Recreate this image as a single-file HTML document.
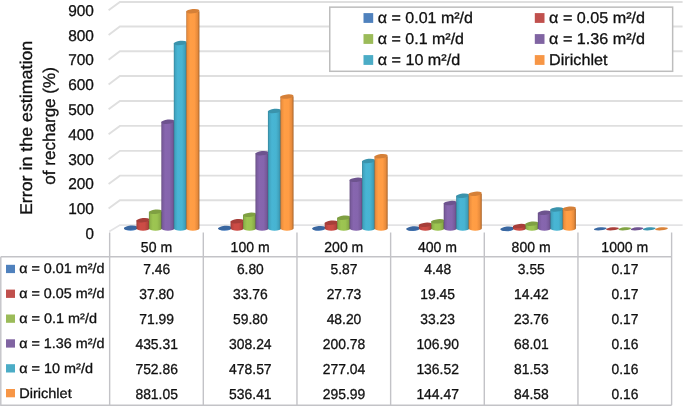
<!DOCTYPE html><html><head><meta charset="utf-8"><title>chart</title><style>html,body{margin:0;padding:0;background:#fff}svg{display:block}text{font-family:"Liberation Sans",sans-serif;fill:#111;stroke:#111;stroke-width:0.3px;text-rendering:geometricPrecision}</style></head><body>
<svg width="685" height="407" viewBox="0 0 685 407">
<defs>
<linearGradient id="gb" x1="0" x2="1" y1="0" y2="0"><stop offset="0" stop-color="#335b8d"/><stop offset="0.1" stop-color="#4073b3"/><stop offset="0.3" stop-color="#477fc5"/><stop offset="0.62" stop-color="#467ec3"/><stop offset="0.85" stop-color="#3e70ad"/><stop offset="1" stop-color="#2e527e"/></linearGradient>
<linearGradient id="gr" x1="0" x2="1" y1="0" y2="0"><stop offset="0" stop-color="#933732"/><stop offset="0.1" stop-color="#b9453f"/><stop offset="0.3" stop-color="#cd4c46"/><stop offset="0.62" stop-color="#cb4c45"/><stop offset="0.85" stop-color="#b3433d"/><stop offset="1" stop-color="#83312d"/></linearGradient>
<linearGradient id="gg" x1="0" x2="1" y1="0" y2="0"><stop offset="0" stop-color="#708d3b"/><stop offset="0.1" stop-color="#8eb34a"/><stop offset="0.3" stop-color="#9dc552"/><stop offset="0.62" stop-color="#9bc351"/><stop offset="0.85" stop-color="#8aad48"/><stop offset="1" stop-color="#657e34"/></linearGradient>
<linearGradient id="gp" x1="0" x2="1" y1="0" y2="0"><stop offset="0" stop-color="#61497d"/><stop offset="0.1" stop-color="#7a5c9e"/><stop offset="0.3" stop-color="#8766af"/><stop offset="0.62" stop-color="#8565ad"/><stop offset="0.85" stop-color="#765999"/><stop offset="1" stop-color="#564170"/></linearGradient>
<linearGradient id="gc" x1="0" x2="1" y1="0" y2="0"><stop offset="0" stop-color="#348298"/><stop offset="0.1" stop-color="#41a4c0"/><stop offset="0.3" stop-color="#48b5d4"/><stop offset="0.62" stop-color="#47b4d2"/><stop offset="0.85" stop-color="#3f9fba"/><stop offset="1" stop-color="#2e7488"/></linearGradient>
<linearGradient id="go" x1="0" x2="1" y1="0" y2="0"><stop offset="0" stop-color="#bc7131"/><stop offset="0.1" stop-color="#ee8f3e"/><stop offset="0.3" stop-color="#ff9e45"/><stop offset="0.62" stop-color="#ff9c44"/><stop offset="0.85" stop-color="#e78b3c"/><stop offset="1" stop-color="#a9652c"/></linearGradient>
</defs>
<rect width="685" height="407" fill="#fff"/>
<path d="M108.6,208.60 L119.9,200.20 H682.6 M108.6,184.05 L119.9,175.65 H682.6 M108.6,159.25 L119.9,150.85 H682.6 M108.6,134.30 L119.9,125.90 H682.6 M108.6,109.35 L119.9,100.95 H682.6 M108.6,84.40 L119.9,76.00 H682.6 M108.6,59.65 L119.9,51.25 H682.6 M108.6,34.95 L119.9,26.55 H682.6 M108.6,10.35 L119.9,1.95 H682.6" fill="none" stroke="#dfdfdf" stroke-width="1.9"/>
<path d="M109.3,231.4 L119.9,225.10 H682.6" fill="none" stroke="#e3e3e5" stroke-width="1.7"/>
<path d="M124.00,227.75 V228.50 A6.60,2.15 0 0 0 137.20,228.50 V227.75 Z" fill="url(#gb)"/>
<ellipse cx="130.60" cy="227.75" rx="6.60" ry="2.15" fill="#3a67a0" transform="rotate(-6 130.60 227.75)"/>
<path d="M136.45,220.23 V228.50 A6.60,2.15 0 0 0 149.65,228.50 V220.23 Z" fill="url(#gr)"/>
<ellipse cx="143.05" cy="220.23" rx="6.60" ry="2.15" fill="#a63e39" transform="rotate(-6 143.05 220.23)"/>
<path d="M148.90,211.75 V228.50 A6.60,2.15 0 0 0 162.10,228.50 V211.75 Z" fill="url(#gg)"/>
<ellipse cx="155.50" cy="211.75" rx="6.60" ry="2.15" fill="#7fa042" transform="rotate(-6 155.50 211.75)"/>
<path d="M161.35,121.66 V228.50 A6.60,2.15 0 0 0 174.55,228.50 V121.66 Z" fill="url(#gp)"/>
<ellipse cx="167.95" cy="121.66" rx="6.60" ry="2.15" fill="#6d538e" transform="rotate(-6 167.95 121.66)"/>
<path d="M173.80,42.93 V228.50 A6.60,2.15 0 0 0 187.00,228.50 V42.93 Z" fill="url(#gc)"/>
<ellipse cx="180.40" cy="42.93" rx="6.60" ry="2.15" fill="#3a93ac" transform="rotate(-6 180.40 42.93)"/>
<path d="M186.25,11.14 V228.50 A6.60,2.15 0 0 0 199.45,228.50 V11.14 Z" fill="url(#go)"/>
<ellipse cx="192.85" cy="11.14" rx="6.60" ry="2.15" fill="#d58038" transform="rotate(-6 192.85 11.14)"/>
<path d="M218.12,227.91 V228.50 A6.60,2.15 0 0 0 231.32,228.50 V227.91 Z" fill="url(#gb)"/>
<ellipse cx="224.72" cy="227.91" rx="6.60" ry="2.15" fill="#3a67a0" transform="rotate(-6 224.72 227.91)"/>
<path d="M230.57,221.23 V228.50 A6.60,2.15 0 0 0 243.77,228.50 V221.23 Z" fill="url(#gr)"/>
<ellipse cx="237.17" cy="221.23" rx="6.60" ry="2.15" fill="#a63e39" transform="rotate(-6 237.17 221.23)"/>
<path d="M243.02,214.77 V228.50 A6.60,2.15 0 0 0 256.22,228.50 V214.77 Z" fill="url(#gg)"/>
<ellipse cx="249.62" cy="214.77" rx="6.60" ry="2.15" fill="#7fa042" transform="rotate(-6 249.62 214.77)"/>
<path d="M255.47,153.17 V228.50 A6.60,2.15 0 0 0 268.67,228.50 V153.17 Z" fill="url(#gp)"/>
<ellipse cx="262.07" cy="153.17" rx="6.60" ry="2.15" fill="#6d538e" transform="rotate(-6 262.07 153.17)"/>
<path d="M267.92,110.94 V228.50 A6.60,2.15 0 0 0 281.12,228.50 V110.94 Z" fill="url(#gc)"/>
<ellipse cx="274.52" cy="110.94" rx="6.60" ry="2.15" fill="#3a93ac" transform="rotate(-6 274.52 110.94)"/>
<path d="M280.37,96.60 V228.50 A6.60,2.15 0 0 0 293.57,228.50 V96.60 Z" fill="url(#go)"/>
<ellipse cx="286.97" cy="96.60" rx="6.60" ry="2.15" fill="#d58038" transform="rotate(-6 286.97 96.60)"/>
<path d="M312.24,228.14 V228.50 A6.60,2.15 0 0 0 325.44,228.50 V228.14 Z" fill="url(#gb)"/>
<ellipse cx="318.84" cy="228.14" rx="6.60" ry="2.15" fill="#3a67a0" transform="rotate(-6 318.84 228.14)"/>
<path d="M324.69,222.72 V228.50 A6.60,2.15 0 0 0 337.89,228.50 V222.72 Z" fill="url(#gr)"/>
<ellipse cx="331.29" cy="222.72" rx="6.60" ry="2.15" fill="#a63e39" transform="rotate(-6 331.29 222.72)"/>
<path d="M337.14,217.65 V228.50 A6.60,2.15 0 0 0 350.34,228.50 V217.65 Z" fill="url(#gg)"/>
<ellipse cx="343.74" cy="217.65" rx="6.60" ry="2.15" fill="#7fa042" transform="rotate(-6 343.74 217.65)"/>
<path d="M349.59,179.82 V228.50 A6.60,2.15 0 0 0 362.79,228.50 V179.82 Z" fill="url(#gp)"/>
<ellipse cx="356.19" cy="179.82" rx="6.60" ry="2.15" fill="#6d538e" transform="rotate(-6 356.19 179.82)"/>
<path d="M362.04,160.91 V228.50 A6.60,2.15 0 0 0 375.24,228.50 V160.91 Z" fill="url(#gc)"/>
<ellipse cx="368.64" cy="160.91" rx="6.60" ry="2.15" fill="#3a93ac" transform="rotate(-6 368.64 160.91)"/>
<path d="M374.49,156.21 V228.50 A6.60,2.15 0 0 0 387.69,228.50 V156.21 Z" fill="url(#go)"/>
<ellipse cx="381.09" cy="156.21" rx="6.60" ry="2.15" fill="#d58038" transform="rotate(-6 381.09 156.21)"/>
<path d="M406.36,228.49 V228.79 A6.60,2.15 0 0 0 419.56,228.79 V228.49 Z" fill="url(#gb)"/>
<ellipse cx="412.96" cy="228.49" rx="6.60" ry="2.15" fill="#3a67a0" transform="rotate(-6 412.96 228.49)"/>
<path d="M418.81,224.78 V228.50 A6.60,2.15 0 0 0 432.01,228.50 V224.78 Z" fill="url(#gr)"/>
<ellipse cx="425.41" cy="224.78" rx="6.60" ry="2.15" fill="#a63e39" transform="rotate(-6 425.41 224.78)"/>
<path d="M431.26,221.36 V228.50 A6.60,2.15 0 0 0 444.46,228.50 V221.36 Z" fill="url(#gg)"/>
<ellipse cx="437.86" cy="221.36" rx="6.60" ry="2.15" fill="#7fa042" transform="rotate(-6 437.86 221.36)"/>
<path d="M443.71,203.09 V228.50 A6.60,2.15 0 0 0 456.91,228.50 V203.09 Z" fill="url(#gp)"/>
<ellipse cx="450.31" cy="203.09" rx="6.60" ry="2.15" fill="#6d538e" transform="rotate(-6 450.31 203.09)"/>
<path d="M456.16,195.75 V228.50 A6.60,2.15 0 0 0 469.36,228.50 V195.75 Z" fill="url(#gc)"/>
<ellipse cx="462.76" cy="195.75" rx="6.60" ry="2.15" fill="#3a93ac" transform="rotate(-6 462.76 195.75)"/>
<path d="M468.61,193.78 V228.50 A6.60,2.15 0 0 0 481.81,228.50 V193.78 Z" fill="url(#go)"/>
<ellipse cx="475.21" cy="193.78" rx="6.60" ry="2.15" fill="#d58038" transform="rotate(-6 475.21 193.78)"/>
<path d="M500.48,228.72 V229.02 A6.60,2.15 0 0 0 513.68,229.02 V228.72 Z" fill="url(#gb)"/>
<ellipse cx="507.08" cy="228.72" rx="6.60" ry="2.15" fill="#3a67a0" transform="rotate(-6 507.08 228.72)"/>
<path d="M512.93,226.02 V228.50 A6.60,2.15 0 0 0 526.13,228.50 V226.02 Z" fill="url(#gr)"/>
<ellipse cx="519.53" cy="226.02" rx="6.60" ry="2.15" fill="#a63e39" transform="rotate(-6 519.53 226.02)"/>
<path d="M525.38,223.71 V228.50 A6.60,2.15 0 0 0 538.58,228.50 V223.71 Z" fill="url(#gg)"/>
<ellipse cx="531.98" cy="223.71" rx="6.60" ry="2.15" fill="#7fa042" transform="rotate(-6 531.98 223.71)"/>
<path d="M537.83,212.74 V228.50 A6.60,2.15 0 0 0 551.03,228.50 V212.74 Z" fill="url(#gp)"/>
<ellipse cx="544.43" cy="212.74" rx="6.60" ry="2.15" fill="#6d538e" transform="rotate(-6 544.43 212.74)"/>
<path d="M550.28,209.38 V228.50 A6.60,2.15 0 0 0 563.48,228.50 V209.38 Z" fill="url(#gc)"/>
<ellipse cx="556.88" cy="209.38" rx="6.60" ry="2.15" fill="#3a93ac" transform="rotate(-6 556.88 209.38)"/>
<path d="M562.73,208.63 V228.50 A6.60,2.15 0 0 0 575.93,228.50 V208.63 Z" fill="url(#go)"/>
<ellipse cx="569.33" cy="208.63" rx="6.60" ry="2.15" fill="#d58038" transform="rotate(-6 569.33 208.63)"/>
<ellipse cx="600.30" cy="228.85" rx="6.4" ry="1.5" fill="#3b6aa4" transform="rotate(-5 600.30 228.85)"/>
<ellipse cx="612.55" cy="228.85" rx="6.4" ry="1.5" fill="#aa3f3a" transform="rotate(-5 612.55 228.85)"/>
<ellipse cx="624.80" cy="228.85" rx="6.4" ry="1.5" fill="#82a444" transform="rotate(-5 624.80 228.85)"/>
<ellipse cx="637.05" cy="228.85" rx="6.4" ry="1.5" fill="#705491" transform="rotate(-5 637.05 228.85)"/>
<ellipse cx="649.30" cy="228.85" rx="6.4" ry="1.5" fill="#3c96b0" transform="rotate(-5 649.30 228.85)"/>
<ellipse cx="661.55" cy="228.85" rx="6.4" ry="1.5" fill="#da8339" transform="rotate(-5 661.55 228.85)"/>
<rect x="329.75" y="7.15" width="342.9" height="64.15" fill="#fff" stroke="#bdbdbd" stroke-width="1.5"/>
<rect x="363.5" y="13.1" width="9.7" height="9.8" fill="#4f81bd"/>
<text x="377.8" y="23.15" font-size="15.6" textLength="95.2" lengthAdjust="spacingAndGlyphs">α = 0.01 m²/d</text>
<rect x="534.8" y="13.1" width="9.7" height="9.8" fill="#c0504d"/>
<text x="549.1" y="23.15" font-size="15.6" textLength="95.9" lengthAdjust="spacingAndGlyphs">α = 0.05 m²/d</text>
<rect x="363.5" y="34.1" width="9.7" height="9.8" fill="#9bbb59"/>
<text x="377.8" y="44.15" font-size="15.6" textLength="86.2" lengthAdjust="spacingAndGlyphs">α = 0.1 m²/d</text>
<rect x="534.8" y="34.1" width="9.7" height="9.8" fill="#8064a2"/>
<text x="549.1" y="44.15" font-size="15.6" textLength="95.9" lengthAdjust="spacingAndGlyphs">α = 1.36 m²/d</text>
<rect x="363.5" y="55.1" width="9.7" height="9.8" fill="#4bacc6"/>
<text x="377.8" y="65.15" font-size="15.6" textLength="82.3" lengthAdjust="spacingAndGlyphs">α = 10 m²/d</text>
<rect x="534.8" y="55.1" width="9.7" height="9.8" fill="#f79646"/>
<text x="549.1" y="65.15" font-size="15.6" textLength="58.4" lengthAdjust="spacingAndGlyphs">Dirichlet</text>
<text x="85.45" y="238.95" font-size="15.7" textLength="8.45" lengthAdjust="spacingAndGlyphs">0</text>
<text x="68.15" y="214.15" font-size="15.7" textLength="25.75" lengthAdjust="spacingAndGlyphs">100</text>
<text x="68.15" y="189.35" font-size="15.7" textLength="25.75" lengthAdjust="spacingAndGlyphs">200</text>
<text x="68.15" y="164.55" font-size="15.7" textLength="25.75" lengthAdjust="spacingAndGlyphs">300</text>
<text x="68.15" y="139.75" font-size="15.7" textLength="25.75" lengthAdjust="spacingAndGlyphs">400</text>
<text x="68.15" y="114.95" font-size="15.7" textLength="25.75" lengthAdjust="spacingAndGlyphs">500</text>
<text x="68.15" y="90.15" font-size="15.7" textLength="25.75" lengthAdjust="spacingAndGlyphs">600</text>
<text x="68.15" y="65.35" font-size="15.7" textLength="25.75" lengthAdjust="spacingAndGlyphs">700</text>
<text x="68.15" y="40.55" font-size="15.7" textLength="25.75" lengthAdjust="spacingAndGlyphs">800</text>
<text x="68.15" y="15.75" font-size="15.7" textLength="25.75" lengthAdjust="spacingAndGlyphs">900</text>
<text transform="translate(32.4,127.95) rotate(-90)" text-anchor="middle" font-size="17" textLength="174.3" lengthAdjust="spacingAndGlyphs">Error in the estimation</text>
<text transform="translate(55.4,125.92) rotate(-90)" text-anchor="middle" font-size="17" textLength="117.65" lengthAdjust="spacingAndGlyphs">of recharge (%)</text>
<path d="M109.65,232.6 V405.2 M203.31,232.6 V405.2 M296.97,232.6 V405.2 M390.63,232.6 V405.2 M484.29,232.6 V405.2 M577.95,232.6 V405.2 M671.61,232.6 V405.2 M0.8,256.75 H671.61 M0.8,256.75 V405.2 H671.61" fill="none" stroke="#c3c3c7" stroke-width="1.4"/>
<text x="140.83" y="252.4" font-size="14.4" textLength="31.30" lengthAdjust="spacingAndGlyphs">50 m</text>
<text x="230.60" y="252.4" font-size="14.4" textLength="39.08" lengthAdjust="spacingAndGlyphs">100 m</text>
<text x="324.26" y="252.4" font-size="14.4" textLength="39.08" lengthAdjust="spacingAndGlyphs">200 m</text>
<text x="417.92" y="252.4" font-size="14.4" textLength="39.08" lengthAdjust="spacingAndGlyphs">400 m</text>
<text x="511.58" y="252.4" font-size="14.4" textLength="39.08" lengthAdjust="spacingAndGlyphs">800 m</text>
<text x="601.35" y="252.4" font-size="14.4" textLength="46.86" lengthAdjust="spacingAndGlyphs">1000 m</text>
<rect x="6.0" y="264.8" width="9.0" height="8.3" fill="#4f81bd"/>
<text x="19.2" y="273.3" font-size="13.8" textLength="85.3" lengthAdjust="spacingAndGlyphs">α = 0.01 m²/d</text>
<text x="143.23" y="273.8" font-size="14.4" textLength="26.90" lengthAdjust="spacingAndGlyphs">7.46</text>
<text x="236.89" y="273.8" font-size="14.4" textLength="26.90" lengthAdjust="spacingAndGlyphs">6.80</text>
<text x="330.55" y="273.8" font-size="14.4" textLength="26.90" lengthAdjust="spacingAndGlyphs">5.87</text>
<text x="424.21" y="273.8" font-size="14.4" textLength="26.90" lengthAdjust="spacingAndGlyphs">4.48</text>
<text x="517.87" y="273.8" font-size="14.4" textLength="26.90" lengthAdjust="spacingAndGlyphs">3.55</text>
<text x="611.53" y="273.8" font-size="14.4" textLength="26.90" lengthAdjust="spacingAndGlyphs">0.17</text>
<rect x="6.0" y="289.6" width="9.0" height="8.3" fill="#c0504d"/>
<text x="19.2" y="298.1" font-size="13.8" textLength="85.3" lengthAdjust="spacingAndGlyphs">α = 0.05 m²/d</text>
<text x="139.32" y="298.8" font-size="14.4" textLength="34.71" lengthAdjust="spacingAndGlyphs">37.80</text>
<text x="232.98" y="298.8" font-size="14.4" textLength="34.71" lengthAdjust="spacingAndGlyphs">33.76</text>
<text x="326.64" y="298.8" font-size="14.4" textLength="34.71" lengthAdjust="spacingAndGlyphs">27.73</text>
<text x="420.30" y="298.8" font-size="14.4" textLength="34.71" lengthAdjust="spacingAndGlyphs">19.45</text>
<text x="513.96" y="298.8" font-size="14.4" textLength="34.71" lengthAdjust="spacingAndGlyphs">14.42</text>
<text x="611.53" y="298.8" font-size="14.4" textLength="26.90" lengthAdjust="spacingAndGlyphs">0.17</text>
<rect x="6.0" y="314.5" width="9.0" height="8.3" fill="#9bbb59"/>
<text x="19.2" y="323.0" font-size="13.8" textLength="77.8" lengthAdjust="spacingAndGlyphs">α = 0.1 m²/d</text>
<text x="139.32" y="323.8" font-size="14.4" textLength="34.71" lengthAdjust="spacingAndGlyphs">71.99</text>
<text x="232.98" y="323.8" font-size="14.4" textLength="34.71" lengthAdjust="spacingAndGlyphs">59.80</text>
<text x="326.64" y="323.8" font-size="14.4" textLength="34.71" lengthAdjust="spacingAndGlyphs">48.20</text>
<text x="420.30" y="323.8" font-size="14.4" textLength="34.71" lengthAdjust="spacingAndGlyphs">33.23</text>
<text x="513.96" y="323.8" font-size="14.4" textLength="34.71" lengthAdjust="spacingAndGlyphs">23.76</text>
<text x="611.53" y="323.8" font-size="14.4" textLength="26.90" lengthAdjust="spacingAndGlyphs">0.17</text>
<rect x="6.0" y="339.3" width="9.0" height="8.3" fill="#8064a2"/>
<text x="19.2" y="347.8" font-size="13.8" textLength="85.3" lengthAdjust="spacingAndGlyphs">α = 1.36 m²/d</text>
<text x="135.42" y="348.8" font-size="14.4" textLength="42.52" lengthAdjust="spacingAndGlyphs">435.31</text>
<text x="229.08" y="348.8" font-size="14.4" textLength="42.52" lengthAdjust="spacingAndGlyphs">308.24</text>
<text x="322.74" y="348.8" font-size="14.4" textLength="42.52" lengthAdjust="spacingAndGlyphs">200.78</text>
<text x="416.40" y="348.8" font-size="14.4" textLength="42.52" lengthAdjust="spacingAndGlyphs">106.90</text>
<text x="513.96" y="348.8" font-size="14.4" textLength="34.71" lengthAdjust="spacingAndGlyphs">68.01</text>
<text x="611.53" y="348.8" font-size="14.4" textLength="26.90" lengthAdjust="spacingAndGlyphs">0.16</text>
<rect x="6.0" y="364.2" width="9.0" height="8.3" fill="#4bacc6"/>
<text x="19.2" y="372.7" font-size="13.8" textLength="73.8" lengthAdjust="spacingAndGlyphs">α = 10 m²/d</text>
<text x="135.42" y="373.8" font-size="14.4" textLength="42.52" lengthAdjust="spacingAndGlyphs">752.86</text>
<text x="229.08" y="373.8" font-size="14.4" textLength="42.52" lengthAdjust="spacingAndGlyphs">478.57</text>
<text x="322.74" y="373.8" font-size="14.4" textLength="42.52" lengthAdjust="spacingAndGlyphs">277.04</text>
<text x="416.40" y="373.8" font-size="14.4" textLength="42.52" lengthAdjust="spacingAndGlyphs">136.52</text>
<text x="513.96" y="373.8" font-size="14.4" textLength="34.71" lengthAdjust="spacingAndGlyphs">81.53</text>
<text x="611.53" y="373.8" font-size="14.4" textLength="26.90" lengthAdjust="spacingAndGlyphs">0.16</text>
<rect x="6.0" y="389.0" width="9.0" height="8.3" fill="#f79646"/>
<text x="19.2" y="397.5" font-size="13.8" textLength="52.5" lengthAdjust="spacingAndGlyphs">Dirichlet</text>
<text x="135.42" y="398.8" font-size="14.4" textLength="42.52" lengthAdjust="spacingAndGlyphs">881.05</text>
<text x="229.08" y="398.8" font-size="14.4" textLength="42.52" lengthAdjust="spacingAndGlyphs">536.41</text>
<text x="322.74" y="398.8" font-size="14.4" textLength="42.52" lengthAdjust="spacingAndGlyphs">295.99</text>
<text x="416.40" y="398.8" font-size="14.4" textLength="42.52" lengthAdjust="spacingAndGlyphs">144.47</text>
<text x="513.96" y="398.8" font-size="14.4" textLength="34.71" lengthAdjust="spacingAndGlyphs">84.58</text>
<text x="611.53" y="398.8" font-size="14.4" textLength="26.90" lengthAdjust="spacingAndGlyphs">0.16</text>
</svg></body></html>
